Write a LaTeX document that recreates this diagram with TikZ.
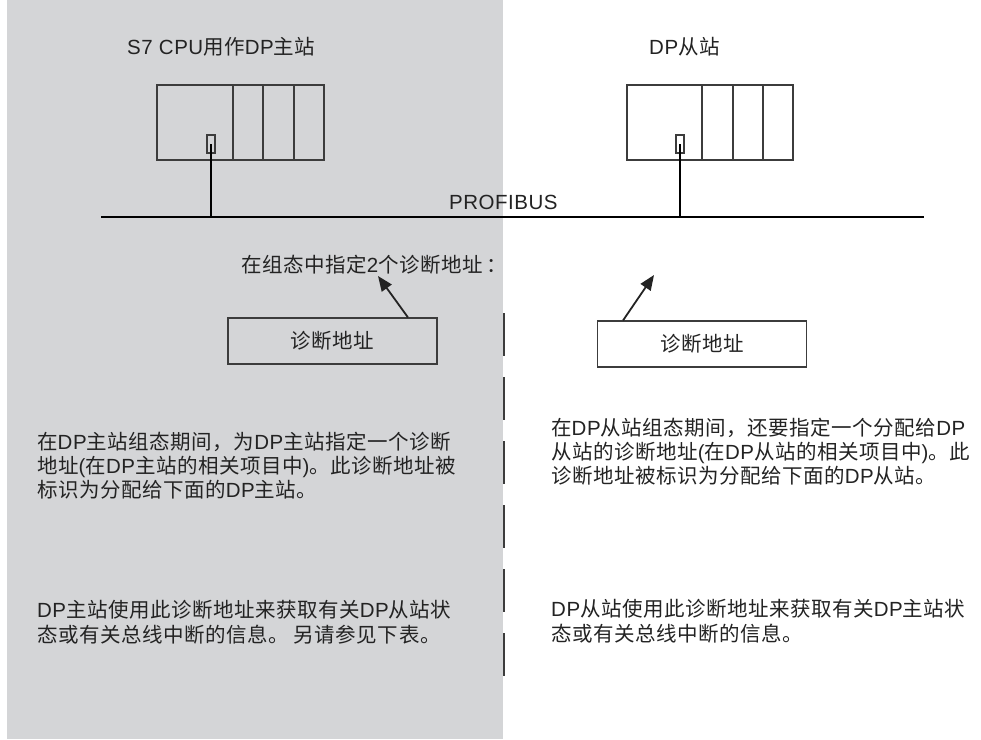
\documentclass[tikz,border=0pt]{standalone}
\usepackage{fontspec}
\setmainfont[LetterSpace=2.5]{Liberation Sans}
\newfontfamily\cjk[LetterSpace=2.5]{Noto Sans CJK SC}
\usetikzlibrary{arrows.meta}
\definecolor{bggray}{RGB}{212,213,215}
\definecolor{ink}{RGB}{35,35,35}
\definecolor{linec}{RGB}{60,60,60}
\tikzset{
  txt/.style={anchor=base west,inner sep=0pt,font=\fontsize{20.5}{24}\selectfont,text=ink},
  diagbox/.style={draw=linec,line width=1.1pt,minimum width=209pt,minimum height=46pt,inner sep=0pt,font=\fontsize{20.5}{24}\selectfont\cjk,text=ink},
  devbox/.style={draw=linec,line width=1.3pt,inner sep=0pt},
  port/.style={draw=linec,line width=1.1pt,minimum width=8pt,minimum height=18pt,inner sep=0pt},
  wire/.style={draw=black,line width=1.8pt},
  pointer/.style={draw=ink,line width=1.8pt,-{Triangle[length=15pt,width=12pt]}},
  sep/.style={draw=linec,line width=2pt,dash pattern=on 43pt off 21pt}
}
\begin{document}
\begin{tikzpicture}[x=1pt,y=-1pt]
\useasboundingbox (0,0) rectangle (981,739);
\fill[bggray] (7,0) rectangle (503,739);
\draw[sep] (503.5,313) -- (503.5,678);
% titles
\node[txt] (t1) at (127,54) {S7 CPU{\cjk 用作}DP{\cjk 主站}};
\node[txt] (t2) at (649,54) {DP{\cjk 从站}};
% devices
\node[devbox,minimum width=167pt,minimum height=75pt] (dev1) at (240.5,122.5) {};
\draw[linec,line width=1.3pt] (233,85) -- (233,160) (263,85) -- (263,160) (294,85) -- (294,160);
\node[port] (p1) at (211,144) {};
\node[devbox,minimum width=166pt,minimum height=75pt] (dev2) at (710,122.5) {};
\draw[linec,line width=1.3pt] (702,85) -- (702,160) (733,85) -- (733,160) (763,85) -- (763,160);
\node[port] (p2) at (680,144) {};
% bus
\coordinate (busL) at (101,217);
\coordinate (busR) at (924,217);
\coordinate (j1) at (211,217);
\coordinate (j2) at (680,217);
\draw[wire] (busL) -- (busR);
\draw[wire] (p1.center) -- (j1);
\draw[wire] (p2.center) -- (j2);
\node[txt] (bus) at (449,209) {PROFIBUS};
% assignment label
\node[txt] (assign) at (241,272) {{\cjk 在组态中指定}2{\cjk 个诊断地址\,：}};
\coordinate (a1) at (378,276);
\coordinate (a2) at (654,275);
\node[diagbox] (d1) at (332.5,341) {诊断地址};
\node[diagbox] (d2) at (702,344) {诊断地址};
\draw[pointer] (d1.north -| 408,0) -- (a1);
\draw[pointer] (d2.north -| 623,0) -- (a2);
% left paragraphs
\node[txt] (l1) at (37,449) {{\cjk 在}DP{\cjk 主站组态期间，为}DP{\cjk 主站指定一个诊断}};
\node[txt] (l2) at (37,473) {{\cjk 地址}({\cjk 在}DP{\cjk 主站的相关项目中}){\cjk 。此诊断地址被}};
\node[txt] (l3) at (37,497) {{\cjk 标识为分配给下面的}DP{\cjk 主站。}};
\node[txt] (l4) at (37,617) {DP{\cjk 主站使用此诊断地址来获取有关}DP{\cjk 从站状}};
\node[txt] (l5) at (37,642) {{\cjk 态或有关总线中断的信息。 另请参见下表。}};
% right paragraphs
\node[txt] (r1) at (551,435) {{\cjk 在}DP{\cjk 从站组态期间，还要指定一个分配给}DP};
\node[txt] (r2) at (551,459) {{\cjk 从站的诊断地址}({\cjk 在}DP{\cjk 从站的相关项目中}){\cjk 。此}};
\node[txt] (r3) at (551,483) {{\cjk 诊断地址被标识为分配给下面的}DP{\cjk 从站。}};
\node[txt] (r4) at (551,616) {DP{\cjk 从站使用此诊断地址来获取有关}DP{\cjk 主站状}};
\node[txt] (r5) at (551,641) {{\cjk 态或有关总线中断的信息。}};
\end{tikzpicture}
\end{document}
